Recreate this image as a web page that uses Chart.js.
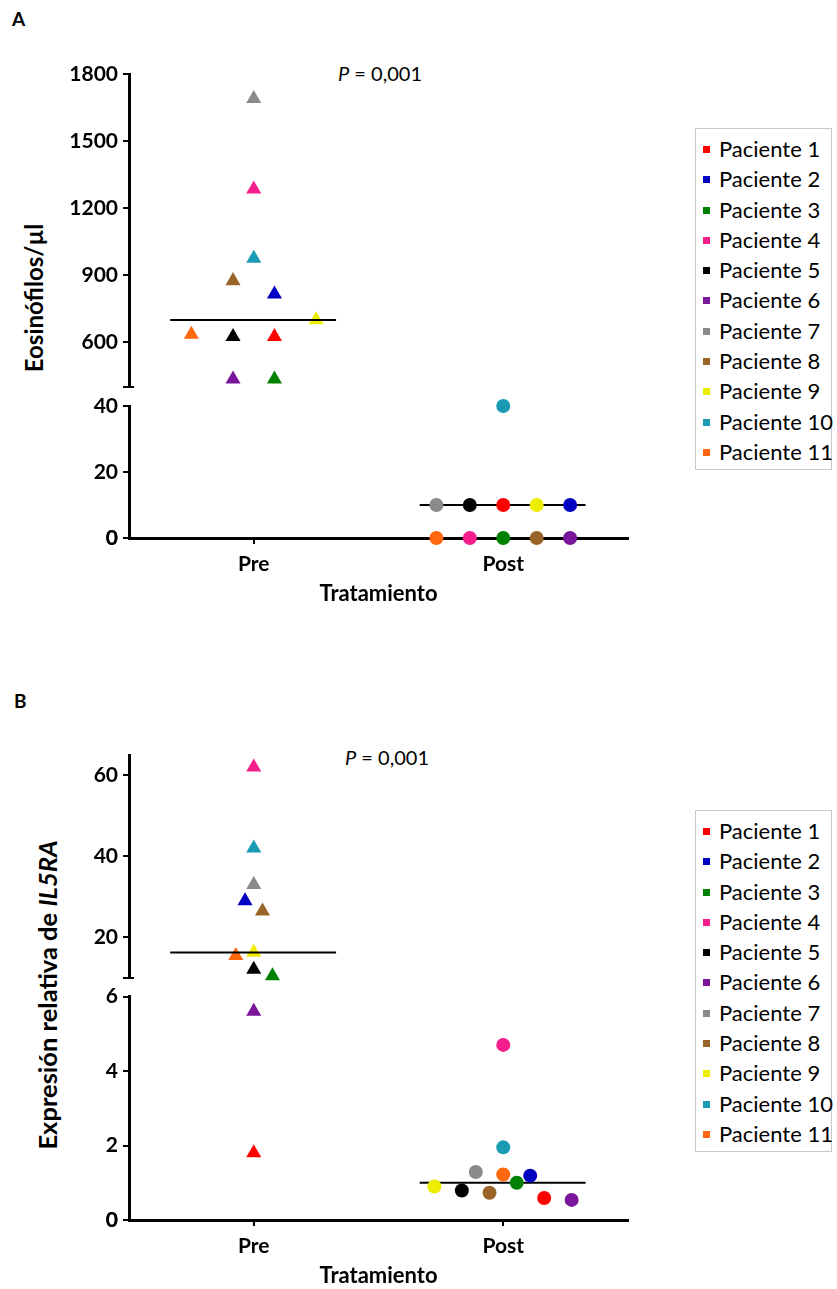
<!DOCTYPE html>
<html>
<head>
<meta charset="utf-8">
<script src="https://cdn.jsdelivr.net/npm/chart.js@4.4.0/dist/chart.umd.min.js"></script>
<style>
html,body{margin:0;padding:0;background:#fff;}
body{width:837px;height:1289px;position:relative;overflow:hidden;font-family:Lato,"Noto Sans",sans-serif;color:#000;}
canvas{position:absolute;left:0;}
.t{position:absolute;white-space:nowrap;transform:translateY(-50%);line-height:1;}
.panel{font-weight:700;font-size:19px;}
.pval{font-size:20px;}
.ytitle{position:absolute;white-space:nowrap;font-weight:700;line-height:1;transform:translate(-50%,-50%) rotate(-90deg);}
.legend{position:absolute;left:695px;width:137px;border:1px solid #c9c9c9;box-sizing:border-box;padding-top:5px;font-size:22px;}
.legend .row{height:30.3px;line-height:30.3px;white-space:nowrap;}
.legend .sw{display:inline-block;width:7px;height:7px;margin-left:7px;margin-right:9px;vertical-align:middle;position:relative;top:-2px;}
</style>
</head>
<body>
<div class="t panel" style="left:12px;top:18px">A</div>
<div class="t panel" style="left:14px;top:700px">B</div>
<div class="t pval" style="left:338px;top:73px"><i>P</i> = 0,001</div>
<div class="t pval" style="left:345px;top:757px"><i>P</i> = 0,001</div>
<div class="ytitle" style="left:34px;top:298px;font-size:24px">Eosinófilos/µl</div>
<div class="ytitle" style="left:48px;top:995px;font-size:25.5px">Expresión relativa de <i>IL5RA</i></div>
<div class="legend" id="legA" style="top:128px;height:342px"></div>
<div class="legend" id="legB" style="top:810px;height:342px"></div>
<canvas id="aTop"></canvas>
<canvas id="aBot"></canvas>
<canvas id="bTop"></canvas>
<canvas id="bBot"></canvas>
<script>
// ---------- data ----------
const patients = ['Paciente 1','Paciente 2','Paciente 3','Paciente 4','Paciente 5','Paciente 6','Paciente 7','Paciente 8','Paciente 9','Paciente 10','Paciente 11'];
const colors = ['#FF0000','#0000C2','#008000','#F41E8C','#000000','#7A1699','#8A8A8A','#9A6428','#EDED00','#1B9AB4','#FF680F'];
const groups = ['Pre','Post'];
const xTitle = 'Tratamiento';

// Panel A: eosinophils / µl
const eosPre  = [625, 815, 435, 1285, 625, 435, 1690, 875, 700, 975, 635];
const eosPost = [10, 10, 0, 0, 10, 0, 10, 0, 10, 40, 0];
const eosMedian = [700, 10];
const eosJitterPre  = [0.083, 0.083, 0.083, 0, -0.083, -0.083, 0, -0.083, 0.25, 0, -0.25];
const eosJitterPost = [0, 0.268, 0, -0.134, -0.134, 0.268, -0.268, 0.134, 0.134, 0, -0.268];
const eosTicksTop = [600, 900, 1200, 1500, 1800];
const eosRangeTop = [400, 1800];
const eosTicksBot = [0, 20, 40];
const eosRangeBot = [0, 40];

// Panel B: relative IL5RA expression
const il5Pre  = [1.8, 29, 10.5, 62, 12.1, 5.6, 33, 26.5, 16.3, 42, 15.5];
const il5Post = [0.59, 1.19, 1.0, 4.7, 0.79, 0.54, 1.29, 0.73, 0.9, 1.95, 1.22];
const il5Median = [16.3, 1.0];
const il5JitterPre  = [0, -0.035, 0.075, 0, 0, 0, 0, 0.035, 0, 0, -0.072];
const il5JitterPost = [0.164, 0.108, 0.054, 0, -0.166, 0.274, -0.11, -0.055, -0.276, 0, 0];
const il5TicksTop = [20, 40, 60];
const il5RangeTop = [10, 65];
const il5TicksBot = [0, 2, 4, 6];
const il5RangeBot = [0, 6];

// ---------- legends ----------
function buildLegend(id) {
  const el = document.getElementById(id);
  patients.forEach((p, i) => {
    const row = document.createElement('div');
    row.className = 'row';
    const sw = document.createElement('span');
    sw.className = 'sw';
    sw.style.background = colors[i];
    row.appendChild(sw);
    row.appendChild(document.createTextNode(p));
    el.appendChild(row);
  });
}
buildLegend('legA');
buildLegend('legB');

// ---------- axis break caps ----------
const breakCap = {
  id: 'breakCap',
  afterDraw(chart, args, o) {
    if (!o || !o.enabled) return;
    const y = chart.scales.y, ctx = chart.ctx;
    const py = y.getPixelForValue(y.min);
    ctx.save();
    ctx.strokeStyle = '#000';
    ctx.lineWidth = 2;
    ctx.beginPath();
    ctx.moveTo(y.right - 5, py);
    ctx.lineTo(y.right + 5, py);
    ctx.stroke();
    ctx.restore();
  }
};

// ---------- charts ----------
const FONT = 'Lato';
function segment(id, opt) {
  const cv = document.getElementById(id);
  cv.width = 640; cv.height = opt.height;
  cv.style.top = opt.top + 'px';
  const [ymin, ymax] = opt.range;
  const inRange = v => v >= ymin && v <= ymax;
  const datasets = [];
  patients.forEach((p, i) => {
    const pts = [];
    if (inRange(opt.pre[i])) pts.push({x: 1 + opt.jPre[i], y: opt.pre[i]});
    if (inRange(opt.post[i])) pts.push({x: 2 + opt.jPost[i], y: opt.post[i]});
    datasets.push({
      label: p, data: pts, order: 1, clip: false, showLine: false,
      pointStyle: c => (c.raw && c.raw.x < 1.5) ? 'triangle' : 'circle',
      pointRadius: c => (c.raw && c.raw.x < 1.5) ? 8.7 : 7,
      pointBackgroundColor: colors[i], pointBorderColor: colors[i], pointBorderWidth: 0
    });
  });
  opt.median.forEach((m, g) => {
    if (!inRange(m)) return;
    datasets.push({
      type: 'line', label: 'median', order: g === 0 ? 0 : 5, clip: false,
      data: [{x: g + 1 - 0.335, y: m}, {x: g + 1 + 0.33, y: m}],
      borderColor: '#000', borderWidth: 2, pointRadius: 0, fill: false
    });
  });
  const tickVals = opt.ticks;
  new Chart(cv, {
    type: 'scatter',
    data: {datasets},
    plugins: [breakCap],
    options: {
      responsive: false, animation: false, events: [],
      layout: {padding: {left: 0, right: 12, top: opt.padTop, bottom: opt.padBottom}},
      plugins: {legend: {display: false}, tooltip: {enabled: false}, breakCap: {enabled: !opt.showX}},
      scales: {
        x: {
          type: 'linear', min: 0.5, max: 2.5, display: opt.showX,
          afterBuildTicks: s => { s.ticks = groups.map((g, k) => ({value: k + 1})); },
          afterFit: s => { s.height = opt.showX ? 69 : 0; },
          ticks: {callback: v => groups[Math.round(v) - 1], color: '#000', padding: 8,
                  maxRotation: 0, autoSkip: false, font: {family: FONT, size: 21, weight: 'bold'}},
          grid: {drawOnChartArea: false, drawTicks: true, tickLength: 6, color: '#000', lineWidth: 2},
          border: {display: true, color: '#000', width: 3},
          title: {display: true, text: xTitle, color: '#000', padding: 0,
                  font: {family: FONT, size: 22, weight: 'bold'}}
        },
        y: {
          type: 'linear', min: ymin, max: ymax,
          afterBuildTicks: s => { s.ticks = [ymin].concat(tickVals).map(v => ({value: v})); },
          afterFit: s => { s.width = 129; },
          ticks: {callback: v => tickVals.includes(v) ? String(v) : '', color: '#000', padding: 5,
                  font: {family: FONT, size: 21, weight: 'bold'}},
          grid: {drawOnChartArea: false, drawTicks: true, tickLength: 6, color: '#000', lineWidth: 2},
          border: {display: true, color: '#000', width: 3}
        }
      }
    }
  });
}

// Panel A top: chart area y 74 -> 387
segment('aTop', {top: 50, height: 357, padTop: 24, padBottom: 20, showX: false,
  range: eosRangeTop, ticks: eosTicksTop, pre: eosPre, post: eosPost,
  jPre: eosJitterPre, jPost: eosJitterPost, median: eosMedian});
// Panel A bottom: chart area y 406 -> 538
segment('aBot', {top: 380, height: 229, padTop: 26, padBottom: 2, showX: true,
  range: eosRangeBot, ticks: eosTicksBot, pre: eosPre, post: eosPost,
  jPre: eosJitterPre, jPost: eosJitterPost, median: eosMedian});
// Panel B top: chart area y 755 -> 978
segment('bTop', {top: 725, height: 273, padTop: 30, padBottom: 20, showX: false,
  range: il5RangeTop, ticks: il5TicksTop, pre: il5Pre, post: il5Post,
  jPre: il5JitterPre, jPost: il5JitterPost, median: il5Median});
// Panel B bottom: chart area y 996.5 -> 1220
segment('bBot', {top: 970, height: 319, padTop: 26.5, padBottom: 0, showX: true,
  range: il5RangeBot, ticks: il5TicksBot, pre: il5Pre, post: il5Post,
  jPre: il5JitterPre, jPost: il5JitterPost, median: il5Median});
</script>
</body>
</html>
